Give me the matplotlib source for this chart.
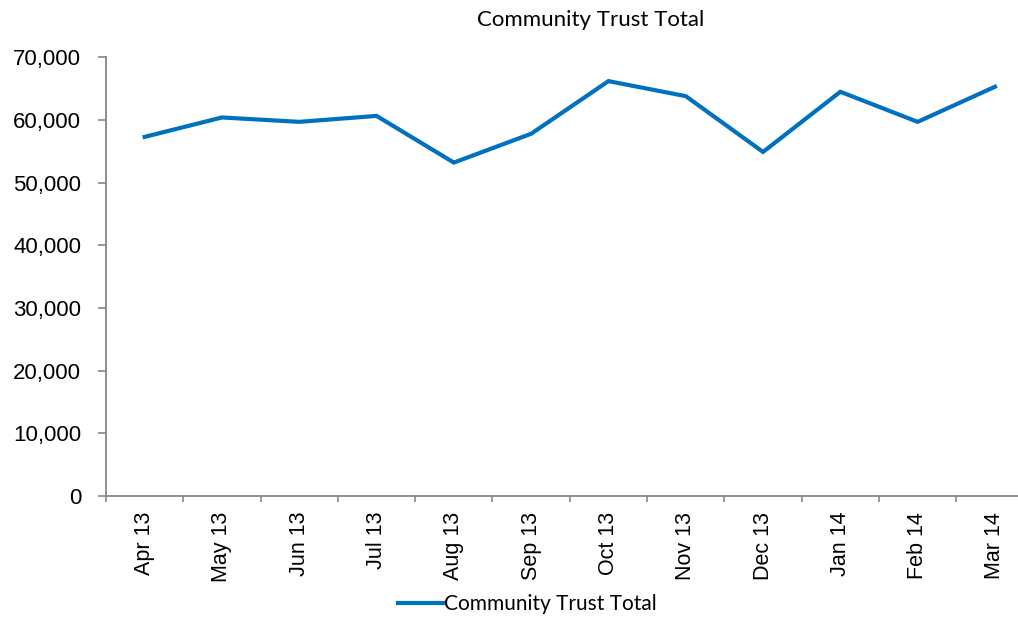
import matplotlib
matplotlib.use("Agg")
import matplotlib.pyplot as plt
from matplotlib.ticker import FuncFormatter, FixedLocator

# Monthly totals
months = ["Apr 13", "May 13", "Jun 13", "Jul 13", "Aug 13", "Sep 13",
          "Oct 13", "Nov 13", "Dec 13", "Jan 14", "Feb 14", "Mar 14"]
totals = [57300, 60400, 59700, 60650, 53200, 57800,
          66200, 63800, 54900, 64500, 59700, 65300]
y_ticks = [0, 10000, 20000, 30000, 40000, 50000, 60000, 70000]

series_name = "Community Trust Total"
line_color = "#0070C0"
axis_color = "#868686"

W, H = 1018, 617
fig = plt.figure(figsize=(W / 100, H / 100), dpi=100)
ax = fig.add_axes([106 / W, 121 / H, 927.6 / W, 438.7 / H])

x = list(range(len(months)))
ax.plot(x, totals, color=line_color, linewidth=3.0, solid_joinstyle="miter",
        label=series_name, clip_on=False)

ax.set_xlim(-0.5, len(months) - 0.5)
ax.set_ylim(y_ticks[0], y_ticks[-1])

# y axis
ax.set_yticks(y_ticks)
ax.yaxis.set_major_formatter(FuncFormatter(lambda v, p: f"{int(v):,}"))
ax.tick_params(axis="y", direction="out", length=5.8, width=1.2,
               color=axis_color, pad=12, labelsize=16)

# x axis: tick marks between categories, labels centred on categories
ax.xaxis.set_major_locator(FixedLocator([i - 0.5 for i in range(len(months) + 1)]))
ax.xaxis.set_minor_locator(FixedLocator(x))
ax.set_xticklabels([""] * (len(months) + 1))
ax.set_xticklabels(months, minor=True, rotation=90)
ax.tick_params(axis="x", which="major", direction="out", length=4.3,
               width=1.2, color=axis_color)
ax.tick_params(axis="x", which="minor", length=0, pad=11.5, labelsize=15.5)

for lbl in ax.get_xticklabels(minor=True) + ax.get_yticklabels():
    lbl.set_family("Liberation Sans")

for side in ("top", "right"):
    ax.spines[side].set_visible(False)
for side in ("left", "bottom"):
    ax.spines[side].set_color(axis_color)
    ax.spines[side].set_linewidth(1.3)

fig.text(591 / W, 1 - 20 / H, series_name, ha="center", va="center",
         fontsize=16, family="Lato")

leg = fig.legend(loc="center", bbox_to_anchor=(527 / W, 1 - 604 / H),
                 frameon=False, prop={"family": "Lato", "size": 15},
                 handlelength=2.2, handletextpad=0.0, borderpad=0,
                 borderaxespad=0)

fig.savefig("out.png", dpi=100)
